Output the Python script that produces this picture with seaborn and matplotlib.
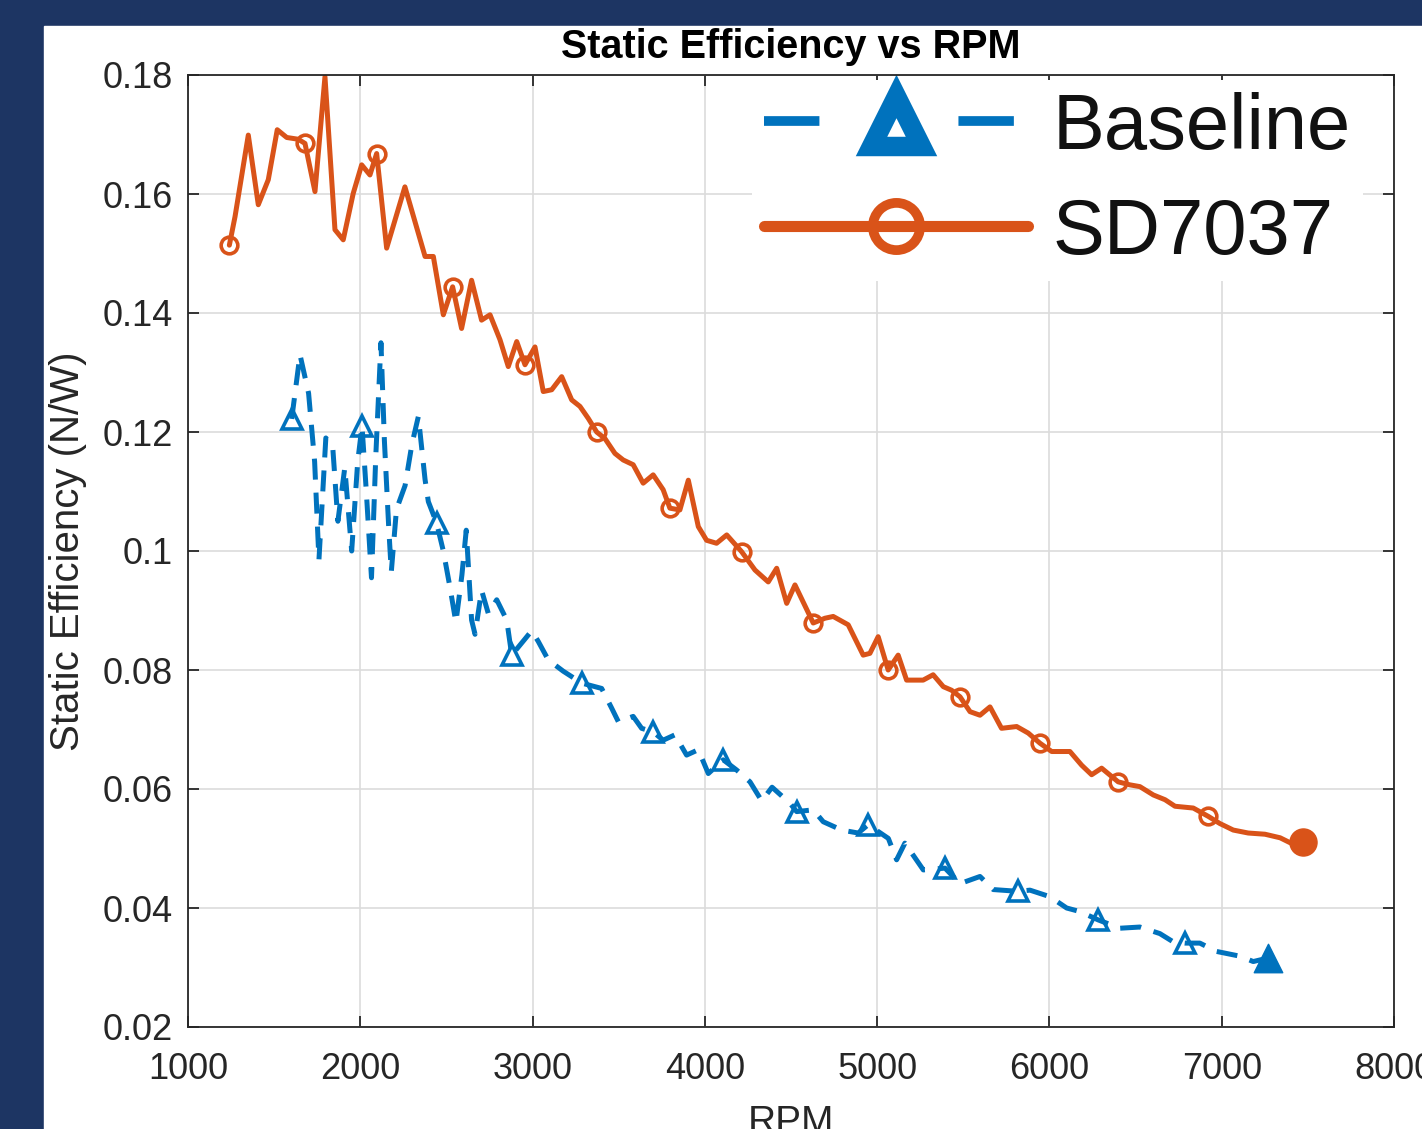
import numpy as np
import pandas as pd
import matplotlib
matplotlib.use('Agg')
import matplotlib.pyplot as plt
from matplotlib.lines import Line2D
from matplotlib.patches import Rectangle
import seaborn as sns

# 数据
base_rpm = [1602, 1650, 1700, 1735, 1760, 1800, 1840, 1870, 1910, 1950, 1985,
            2010, 2035, 2065, 2090, 2120, 2140, 2165, 2180, 2210, 2260, 2300,
            2337, 2376, 2395, 2443, 2482, 2520, 2555, 2590, 2615, 2646, 2666,
            2704, 2743, 2792, 2850, 2879, 2950, 2995, 3033, 3091, 3178, 3285,
            3401, 3459, 3498, 3584, 3633, 3700, 3758, 3826, 3894, 3962, 4020,
            4107, 4184, 4262, 4330, 4390, 4494, 4533, 4629, 4687, 4794, 4890,
            4948, 5065, 5113, 5161, 5268, 5394, 5481, 5597, 5674, 5819, 5887,
            6003, 6100, 6177, 6283, 6409, 6525, 6641, 6719, 6786, 6873, 6970,
            7106, 7183, 7270]
base_eff = [0.1222, 0.1330, 0.1265, 0.1150, 0.0985, 0.1190, 0.1175, 0.1050,
            0.1140, 0.1000, 0.1150, 0.1210, 0.1100, 0.0955, 0.1160, 0.1350,
            0.1185, 0.1040, 0.0965, 0.1070, 0.1110, 0.1180, 0.1226, 0.1120,
            0.1083, 0.1047, 0.1000, 0.0940, 0.0880, 0.0960, 0.1035, 0.0884,
            0.0860, 0.0934, 0.0895, 0.0918, 0.0884, 0.0825, 0.0850, 0.0866,
            0.0848, 0.0817, 0.0798, 0.0778, 0.0769, 0.0736, 0.0713, 0.0722,
            0.0702, 0.0696, 0.0682, 0.0691, 0.0657, 0.0666, 0.0626, 0.0649,
            0.0632, 0.0612, 0.0580, 0.0603, 0.0576, 0.0562, 0.0565, 0.0545,
            0.0531, 0.0526, 0.0540, 0.0517, 0.0481, 0.0509, 0.0464, 0.0467,
            0.0441, 0.0453, 0.0431, 0.0428, 0.0430, 0.0419, 0.0400, 0.0394,
            0.0380, 0.0366, 0.0368, 0.0357, 0.0343, 0.0341, 0.0341, 0.0327,
            0.0319, 0.0310, 0.0316]
base_marks = [0, 11, 25, 37, 43, 49, 55, 61, 66, 71, 75, 80, 85]

sd_rpm = [1240, 1273, 1350, 1408, 1466, 1518, 1573, 1640, 1679, 1737, 1795,
          1853, 1901, 1959, 2008, 2056, 2095, 2153, 2259, 2376, 2424, 2482,
          2536, 2588, 2646, 2704, 2753, 2811, 2859, 2908, 2956, 3014, 3062,
          3111, 3169, 3227, 3275, 3323, 3372, 3420, 3478, 3526, 3584, 3642,
          3700, 3758, 3797, 3855, 3904, 3962, 4010, 4068, 4127, 4213, 4291,
          4368, 4417, 4475, 4523, 4629, 4697, 4745, 4832, 4919, 4958, 5006,
          5064, 5122, 5171, 5267, 5325, 5384, 5432, 5481, 5539, 5597, 5655,
          5722, 5810, 5877, 5945, 6013, 6119, 6187, 6245, 6303, 6399, 6467,
          6525, 6603, 6671, 6729, 6835, 6922, 6989, 7067, 7154, 7251, 7339,
          7416, 7473]
sd_eff = [0.1514, 0.1562, 0.1699, 0.1582, 0.1624, 0.1708, 0.1695, 0.1692,
          0.1685, 0.1604, 0.1797, 0.1540, 0.1523, 0.1601, 0.1649, 0.1632,
          0.1668, 0.1509, 0.1612, 0.1495, 0.1495, 0.1397, 0.1444, 0.1374,
          0.1455, 0.1388, 0.1397, 0.1355, 0.1310, 0.1352, 0.1313, 0.1343,
          0.1268, 0.1271, 0.1293, 0.1254, 0.1243, 0.1223, 0.1200, 0.1189,
          0.1164, 0.1153, 0.1145, 0.1114, 0.1128, 0.1103, 0.1072, 0.1069,
          0.1119, 0.1041, 0.1018, 0.1013, 0.1027, 0.0999, 0.0968, 0.0948,
          0.0971, 0.0912, 0.0943, 0.0879, 0.0887, 0.0890, 0.0876, 0.0825,
          0.0828, 0.0856, 0.0800, 0.0825, 0.0783, 0.0783, 0.0792, 0.0772,
          0.0766, 0.0755, 0.0730, 0.0724, 0.0738, 0.0702, 0.0705, 0.0694,
          0.0677, 0.0663, 0.0663, 0.0640, 0.0624, 0.0635, 0.0612, 0.0607,
          0.0604, 0.0590, 0.0582, 0.0571, 0.0568, 0.0554, 0.0542, 0.0531,
          0.0526, 0.0524, 0.0518, 0.0507, 0.0511]
sd_marks = [0, 8, 16, 22, 30, 38, 46, 53, 59, 66, 73, 80, 86, 93]

x_ticks = [1000, 2000, 3000, 4000, 5000, 6000, 7000, 8000]
y_ticks = [0.02, 0.04, 0.06, 0.08, 0.10, 0.12, 0.14, 0.16, 0.18]
y_tick_labels = ['0.02', '0.04', '0.06', '0.08', '0.1', '0.12', '0.14', '0.16', '0.18']

BLUE = '#0072BD'
ORANGE = '#D95319'

sns.set_style('whitegrid')
plt.rcParams['font.family'] = ['Liberation Sans', 'DejaVu Sans']
plt.rcParams['grid.color'] = '#dcdcdc'
plt.rcParams['grid.linewidth'] = 1.2
plt.rcParams['axes.edgecolor'] = '#262626'

df_base = pd.DataFrame({'rpm': base_rpm, 'eff': base_eff})
df_sd = pd.DataFrame({'rpm': sd_rpm, 'eff': sd_eff})

fig = plt.figure(figsize=(14.22, 11.29), dpi=100, facecolor='#1d3563')
# 白色画布区域 (截图里左侧和上方是深蓝色幻灯片背景)
fig.add_artist(Rectangle((44 / 1422, 0), 1 - 44 / 1422, (1129 - 26) / 1129,
                         transform=fig.transFigure, color='white', zorder=0))
ax = fig.add_axes([188 / 1422, 102 / 1129, 1206 / 1422, 952 / 1129])

sns.lineplot(data=df_base, x='rpm', y='eff', ax=ax, color=BLUE, lw=3.6,
             linestyle=(0, (4.2, 2.6)), marker='^', markevery=base_marks,
             ms=15, mfc='none', mec=BLUE, mew=2.6, errorbar=None, legend=False)
sns.lineplot(data=df_sd, x='rpm', y='eff', ax=ax, color=ORANGE, lw=3.6,
             marker='o', markevery=sd_marks, ms=12, mfc='none', mec=ORANGE,
             mew=2.6, errorbar=None, legend=False)
# 末端实心标记
sns.scatterplot(x=[base_rpm[-1]], y=[base_eff[-1]], ax=ax, marker='^', s=420,
                color=BLUE, edgecolor=BLUE, linewidth=1, legend=False, zorder=4)
sns.scatterplot(x=[sd_rpm[-1]], y=[sd_eff[-1]], ax=ax, marker='o', s=380,
                color=ORANGE, edgecolor=ORANGE, linewidth=1, legend=False, zorder=4)

ax.set_xlim(1000, 8000)
ax.set_ylim(0.02, 0.18)
ax.set_xticks(x_ticks)
ax.set_yticks(y_ticks)
ax.set_yticklabels(y_tick_labels)
ax.tick_params(axis='both', direction='in', length=8, width=1.3, colors='#262626',
               labelsize=26, top=True, right=True, bottom=True, left=True)
ax.tick_params(axis='y', pad=11)
ax.tick_params(axis='x', pad=18)
for s in ax.spines.values():
    s.set_visible(True)
    s.set_linewidth(1.3)
    s.set_color('#262626')
    s.set_zorder(6)

ax.set_title('Static Efficiency vs RPM', fontsize=28.5, fontweight='bold',
             color='black', pad=12)
ax.set_xlabel('RPM', fontsize=28, color='#262626', labelpad=13)
ax.set_ylabel('Static Efficiency (N/W)', fontsize=29, color='#262626', labelpad=11)

handles = [
    Line2D([], [], color=BLUE, lw=7, dashes=(5.7, 14.3), marker='^', ms=36,
           mfc='none', mec=BLUE, mew=14),
    Line2D([], [], color=ORANGE, lw=8, marker='o', ms=34, mfc='none',
           mec=ORANGE, mew=7),
]
leg = ax.legend(handles, ['Baseline', 'SD7037'], loc='upper left',
                bbox_to_anchor=(752 / 1422, (1129 - 80) / 1129),
                bbox_transform=fig.transFigure, fontsize=56, frameon=True,
                framealpha=1, facecolor='white', edgecolor='none', fancybox=False,
                handlelength=3.4, handletextpad=0.32, labelspacing=0.41,
                borderpad=0.15, borderaxespad=0, numpoints=1, labelcolor='#111111')
leg.get_frame().set_linewidth(0)

fig.savefig('out.png', dpi=100, facecolor=fig.get_facecolor())
